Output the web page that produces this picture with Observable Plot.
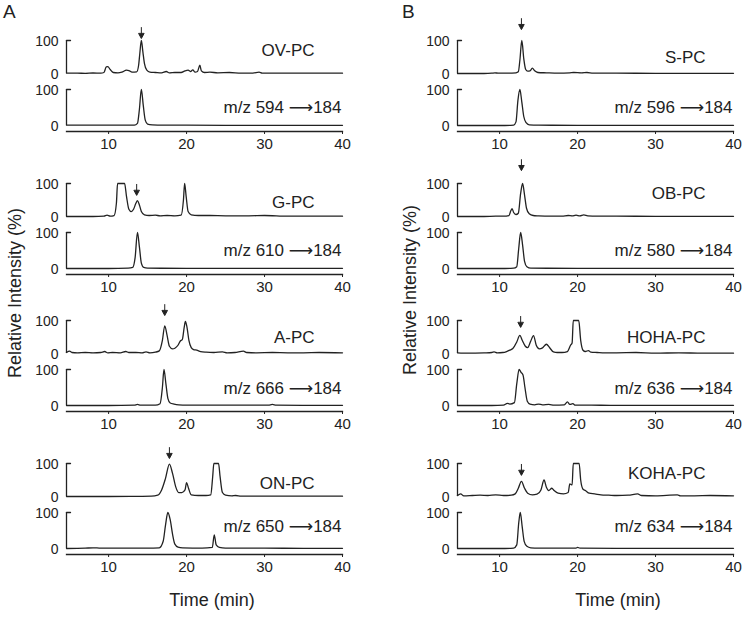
<!DOCTYPE html>
<html><head><meta charset="utf-8">
<script src="https://cdn.jsdelivr.net/npm/d3@7"></script>
<script src="https://cdn.jsdelivr.net/npm/@observablehq/plot@0.6"></script>
<style>
body{margin:0;background:#fff;}
#fig{position:relative;width:750px;height:617px;overflow:hidden;font-family:"Liberation Sans",Arial,sans-serif;color:#222;background:#fff;}
.abs{position:absolute;white-space:nowrap;}
</style></head><body><div id="fig"></div>
<script>
// ---------- data ----------
const xDomain = [4.6, 40];
const xTicks = [10, 20, 30, 40];
const yTicks = [0, 100];

const compounds = ["OV-PC", "G-PC", "A-PC", "ON-PC", "S-PC", "OB-PC", "HOHA-PC", "KOHA-PC"];
const precursors = [594, 610, 666, 650, 596, 580, 636, 634];
const product = 184;
const arrowTimes = [14.2, 13.6, 17.2, 17.8, 12.8, 12.8, 12.7, 12.8];
const arrowTips = [106, 64, 115, 115, 133, 139, 79, 64];

// [time (min), relative intensity (%)]
const ovpcScan = [[4.6,1],[6,1],[7,0.5],[8,1.5],[9,1],[9.4,3],[9.7,20],[9.9,21],[10.2,12],[10.6,3],[11.2,2],[11.7,4],[12.3,10],[12.6,9],[13,4],[13.6,5],[13.85,25],[14.0,60],[14.2,100],[14.4,65],[14.6,30],[14.9,10],[15.3,4],[16,3],[16.8,2],[17.4,6],[17.8,2],[18.5,3],[19.3,3],[19.8,8],[20.2,10],[20.5,6],[20.8,11],[21.1,4],[21.4,6],[21.7,25],[21.9,8],[22.3,3],[23,4],[24,2],[25.5,3],[27,1],[28.5,1],[29.3,4],[29.7,1],[32,1],[36,1],[40,1]];
const ovpcMrm = [[4.6,1],[8,1],[12,1],[13.3,1],[13.7,6],[13.95,45],[14.2,100],[14.45,55],[14.7,15],[15,4],[15.6,2],[17,1],[20,1],[25,0.5],[30,0.5],[40,0.5]];
const gpcScan = [[4.6,0],[8,0],[9.4,1],[9.8,4],[10.2,1],[10.7,3],[11.0,40],[11.15,100],[12.05,100],[12.3,60],[12.6,22],[12.9,15],[13.2,22],[13.5,40],[13.7,48],[13.95,35],[14.2,15],[14.6,5],[15.2,3],[16,4],[16.6,2],[17.5,3],[18.5,2],[19.3,4],[19.6,50],[19.75,100],[19.95,60],[20.2,15],[20.6,5],[21.5,3],[23,3],[25,2],[28,2],[30,3],[33,1],[36,1],[40,1]];
const gpcMrm = [[4.6,0],[10,0],[12.5,1],[13.1,3],[13.4,30],[13.7,100],[13.95,60],[14.2,15],[14.5,3],[15,1],[20,0.5],[40,0.5]];
const apcScan = [[4.6,3],[5,7],[5.3,3],[6,2],[7,3],[8,2],[9,3],[9.5,6],[9.9,2],[10.5,3],[11.5,2],[12.2,6],[12.6,3],[13.5,3],[14.3,2],[14.8,5],[15.3,2],[16,4],[16.5,8],[16.9,40],[17.2,84],[17.5,55],[17.8,22],[18.2,14],[18.5,16],[18.9,25],[19.2,38],[19.45,42],[19.7,80],[19.85,97],[20.05,80],[20.3,40],[20.6,18],[20.9,12],[21.3,10],[21.8,6],[22.5,4],[23.5,3],[24.6,5],[25.2,2],[26.2,3],[27.3,7],[27.7,3],[29,2],[31,3],[33,2],[35,2],[37,3],[40,2]];
const apcMrm = [[4.6,0],[10,0],[13.3,1],[13.7,3],[14.1,1],[16,1],[16.6,5],[16.9,50],[17.1,100],[17.35,60],[17.6,20],[17.9,7],[18.4,4],[19,2],[20,1],[25,1],[30.5,1],[31,3],[31.5,1],[35,0.5],[40,0.5]];
const onpcScan = [[4.6,0],[10,0],[14,0.5],[15.5,1],[16.3,4],[16.8,20],[17.3,55],[17.8,98],[18.2,70],[18.6,30],[19.0,12],[19.4,12],[19.8,20],[20.0,42],[20.25,25],[20.6,5],[21.5,3],[22.5,3],[23.1,5],[23.35,60],[23.5,100],[24.1,100],[24.3,60],[24.6,12],[25,4],[25.8,2],[26.3,3],[27,1],[30,1],[35,1],[40,1]];
const onpcMrm = [[4.6,0],[7,1],[8,2],[9,1],[12,1],[15,1],[16.5,2],[17,20],[17.3,65],[17.6,100],[17.9,80],[18.2,40],[18.5,12],[18.9,4],[19.5,2],[22,1],[23.3,3],[23.55,38],[23.8,10],[24.2,3],[25,1],[30,1],[35,0.5],[40,0.5]];
const spcScan = [[4.6,0],[8,0],[9,1],[9.4,2],[9.8,1],[11,1],[12.1,2],[12.4,5],[12.6,40],[12.85,100],[13.1,45],[13.35,12],[13.6,7],[13.9,8],[14.2,16],[14.5,8],[14.9,3],[16,2],[17.5,1],[19,2],[19.5,3],[20.5,2],[21.2,3],[22,1],[25,1],[30,0.5],[40,0.5]];
const spcMrm = [[4.6,0],[10,0],[11.8,1],[12.1,10],[12.35,70],[12.6,100],[12.85,65],[13.1,25],[13.4,8],[13.8,2],[15,1],[20,0.5],[40,0.5]];
const obpcScan = [[4.6,0],[8,0],[9.5,1],[10.5,1],[11.2,3],[11.45,18],[11.6,24],[11.8,12],[12.1,6],[12.4,10],[12.7,70],[12.95,100],[13.2,65],[13.45,25],[13.8,8],[14.3,3],[15,2],[16.5,1],[18,1],[18.8,3],[19.3,2],[19.8,4],[20.3,2],[20.8,5],[21.3,2],[22.5,1],[25,1],[30,0.5],[40,0.5]];
const obpcMrm = [[4.6,0],[10,0],[11.8,1],[12.2,5],[12.45,55],[12.7,100],[12.95,65],[13.2,20],[13.5,5],[14,1],[20,0.5],[40,0.5]];
const hohapcScan = [[4.6,2],[6,1],[8,2],[9.0,3],[9.3,5],[9.7,2],[10.4,3],[10.9,6],[11.3,10],[11.7,15],[12.2,35],[12.6,55],[12.9,40],[13.3,22],[13.6,18],[14.0,38],[14.35,54],[14.7,25],[15.1,14],[15.5,17],[16.0,28],[16.4,18],[16.9,5],[17.4,3],[18,3],[18.7,6],[19.1,25],[19.3,32],[19.45,100],[20.15,100],[20.4,40],[20.7,10],[21.0,6],[21.4,9],[21.7,4],[22.5,3],[23.5,2],[25,2],[27.5,3],[30,1],[33,2],[36,1],[40,1]];
const hohapcMrm = [[4.6,0],[9,0],[10.5,1],[11.0,6],[11.3,4],[11.9,8],[12.2,60],[12.5,100],[12.75,92],[13.0,85],[13.25,50],[13.55,12],[13.9,4],[14.5,2],[15.0,4],[15.5,2],[16.3,3],[17,1],[18.3,2],[18.7,10],[19.0,3],[19.4,5],[19.7,1],[21,1],[25,0.5],[30,0.5],[40,0.5]];
const kohapcScan = [[4.6,3],[5,8],[5.4,2],[6.5,3],[7.5,4],[8.5,3],[9.5,5],[10.5,3],[11.5,4],[12.0,8],[12.4,25],[12.8,46],[13.2,25],[13.6,10],[14.2,5],[14.8,7],[15.3,20],[15.7,50],[16.0,28],[16.3,18],[16.7,25],[17.0,18],[17.5,10],[18.2,8],[18.8,12],[19.0,38],[19.3,35],[19.45,100],[20.2,100],[20.4,50],[20.7,22],[21.0,18],[21.5,10],[22.2,8],[23,5],[24,4],[25,3],[26.5,4],[27.7,8],[28.2,3],[30,2],[32.8,5],[33.2,2],[35,2],[37,3],[40,2]];
const kohapcMrm = [[4.6,0],[10,0],[11.8,1],[12.2,10],[12.45,70],[12.65,100],[12.9,60],[13.15,20],[13.5,6],[14,2],[15,1],[19.8,1],[20,3],[20.3,1],[25,0.5],[40,0.5]];

const scanTraces = [ovpcScan, gpcScan, apcScan, onpcScan, spcScan, obpcScan, hohapcScan, kohapcScan];
const mrmTraces = [ovpcMrm, gpcMrm, apcMrm, onpcMrm, spcMrm, obpcMrm, hohapcMrm, kohapcMrm];

// ---------- layout ----------
const groupTops = [40, 183, 320, 463];
const colX = [66, 457];
const W = 276, ML = 50, MR = 12;
const nameLevels = [70, 42, 48, 39, 48, 70, 48, 70];
const mzLevels = [50, 50, 47, 61, 50, 50, 47, 61];
const ink = "#222";
const font = "'Liberation Sans', Arial, sans-serif";
const mzFont = "'Liberation Sans', 'DejaVu Sans', sans-serif";

const lineShape = {draw(ctx, l) { ctx.moveTo(0, 0); ctx.lineTo(0, -l); }};
const arrowShape = {draw(ctx, l) {
  ctx.moveTo(0, 0); ctx.lineTo(0, -l + 3);
  ctx.moveTo(-2.6, -l + 4.8); ctx.lineTo(0, -l); ctx.lineTo(2.6, -l + 4.8); ctx.closePath();
}};

const fig = document.getElementById("fig");
function place(node, left, top, width) {
  const d = document.createElement("div");
  d.className = "abs";
  d.style.left = left + "px"; d.style.top = top + "px"; d.style.width = width + "px";
  d.appendChild(node); fig.appendChild(d);
}

function yAxisMarks() {
  return [
    Plot.ruleX([xDomain[0]], {y1: yTicks[0], y2: yTicks[1], stroke: ink, strokeWidth: 1.3}),
    Plot.vector([yTicks[1]], {x: xDomain[0], y: d => d, length: 4, rotate: 90, anchor: "start", shape: lineShape, stroke: ink, strokeWidth: 1.3}),
    Plot.axisY({ticks: yTicks, tickSize: 0, tickPadding: 8, fontSize: 14, dy: 1, label: null})
  ];
}

for (let i = 0; i < 8; i++) {
  const c = Math.floor(i / 4), g = i % 4;
  const T = groupTops[g];
  const left = colX[c] - ML;
  const common = {
    width: ML + W + MR, marginLeft: ML, marginRight: MR,
    x: {domain: xDomain, axis: null},
    style: {fontFamily: font, color: ink, background: "transparent", maxWidth: "none", overflow: "visible"}
  };
  // full-scan (top) panel
  const top = Plot.plot({
    ...common,
    height: 30 + 33 + 3, marginTop: 30, marginBottom: 3,
    y: {domain: [0, 100], axis: null},
    marks: [
      ...yAxisMarks(),
      Plot.line(scanTraces[i], {x: d => d[0], y: d => d[1], curve: "monotone-x", stroke: ink, strokeWidth: 1.3}),
      Plot.text([{label: compounds[i], level: nameLevels[i]}], {y: "level", text: "label", frameAnchor: "right", textAnchor: "end", dx: -28, fontSize: 17, fill: ink}),
      Plot.vector([{t: arrowTimes[i], level: arrowTips[i]}], {x: "t", y: "level", length: 11, rotate: 180, anchor: "end", shape: arrowShape, stroke: ink, fill: ink, strokeWidth: 1})
    ]
  });
  place(top, left, T - 30, ML + W + MR);
  // MRM (bottom) panel with time axis
  const bot = Plot.plot({
    ...common,
    height: 5 + 42 + 28, marginTop: 5, marginBottom: 28,
    y: {domain: [0, 100], axis: null, insetBottom: 6},
    marks: [
      ...yAxisMarks(),
      Plot.line(mrmTraces[i], {x: d => d[0], y: d => d[1], curve: "monotone-x", stroke: ink, strokeWidth: 1.3}),
      Plot.text([{label: `m/z ${precursors[i]} \u27F6${product}`, level: mzLevels[i]}], {y: "level", text: "label", frameAnchor: "right", textAnchor: "end", dx: -1, fontSize: 17, fontFamily: mzFont, fill: ink}),
      Plot.frame({anchor: "bottom", stroke: ink, strokeWidth: 1.3}),
      Plot.axisX({ticks: xTicks, tickSize: 3, tickPadding: 4, fontSize: 15, label: null})
    ]
  });
  place(bot, left, T + 44, ML + W + MR);
}

// ---------- titles ----------
function label(text, css) {
  const d = document.createElement("div");
  d.className = "abs"; d.textContent = text;
  Object.assign(d.style, css);
  fig.appendChild(d);
}
label("A", {left: "3px", top: "1px", fontSize: "19px"});
label("B", {left: "402px", top: "1px", fontSize: "19px"});
label("Time (min)", {left: "212px", top: "600px", fontSize: "18px", transform: "translate(-50%,-50%)"});
label("Time (min)", {left: "618px", top: "600px", fontSize: "18px", transform: "translate(-50%,-50%)"});
label("Relative Intensity (%)", {left: "15px", top: "293px", fontSize: "18px", transform: "translate(-50%,-50%) rotate(-90deg)"});
label("Relative Intensity (%)", {left: "410px", top: "290px", fontSize: "18px", transform: "translate(-50%,-50%) rotate(-90deg)"});
</script></body></html>
